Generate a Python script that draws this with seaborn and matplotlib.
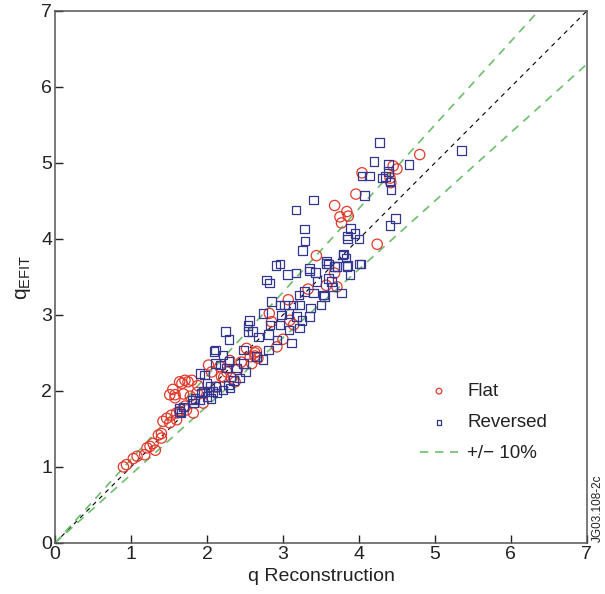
import numpy as np
import pandas as pd
import matplotlib
matplotlib.use("Agg")
import matplotlib.pyplot as plt
import seaborn as sns

# q reconstruction vs q from EFIT
flat_x = [0.90, 0.94, 1.03, 1.08, 1.18, 1.21, 1.25, 1.29, 1.32, 1.36, 1.40, 1.40,
          1.42, 1.47, 1.51, 1.53, 1.60, 1.60, 1.64, 1.71, 1.51, 1.58, 1.67, 1.75,
          1.64, 1.71, 1.80, 1.88, 1.55, 1.58, 1.69, 1.78, 1.87, 1.73, 1.82, 2.02,
          2.06, 2.17, 2.19, 2.26, 2.32, 2.37, 2.57, 2.63, 2.67, 2.59, 2.52, 2.65,
          2.63, 2.82, 2.85, 3.09, 3.14, 3.00, 2.92, 3.07, 3.33, 3.71, 3.57, 3.68,
          3.44, 4.24, 3.75, 3.77, 3.84, 3.86, 3.68, 3.96, 4.04, 4.41, 4.42, 4.45,
          4.50, 4.80, 2.12, 2.22, 2.40, 1.95, 2.45, 2.30]
flat_y = [1.00, 1.03, 1.11, 1.14, 1.16, 1.25, 1.27, 1.31, 1.22, 1.42, 1.44, 1.38,
          1.60, 1.64, 1.58, 1.68, 1.62, 1.71, 1.73, 1.80, 1.95, 1.95, 2.10, 2.12,
          2.12, 2.14, 2.14, 2.07, 2.02, 1.91, 1.96, 1.93, 1.98, 1.75, 1.71, 2.34,
          2.25, 2.32, 2.19, 2.25, 2.17, 2.12, 2.45, 2.50, 2.43, 2.36, 2.56, 2.52,
          2.46, 3.02, 2.91, 2.93, 2.87, 2.68, 2.58, 3.20, 3.34, 3.37, 3.39, 3.55,
          3.78, 3.93, 4.29, 4.21, 4.36, 4.30, 4.44, 4.59, 4.87, 4.80, 4.74, 4.96,
          4.92, 5.11, 2.05, 2.18, 2.28, 1.84, 2.38, 2.40]

rev_x = [1.64, 1.66, 1.80, 1.93, 2.02, 2.11, 1.82, 1.69, 1.64, 1.91, 1.97, 2.00,
         2.04, 2.08, 1.95, 1.84, 1.91, 2.00, 2.05, 2.13, 2.21, 2.30, 2.09, 2.21,
         2.29, 2.11, 2.18, 2.26, 2.39, 2.48, 2.51, 2.43, 2.35, 2.28, 2.74, 2.65,
         2.11, 2.48, 2.81, 2.24, 2.29, 2.54, 2.60, 2.68, 2.81, 2.92, 3.11, 2.83,
         2.96, 3.08, 3.22, 2.56, 2.54, 2.74, 2.98, 3.08, 3.18, 3.25, 3.35, 2.85,
         2.96, 3.02, 3.13, 3.22, 3.36, 3.50, 3.21, 3.28, 3.40, 3.55, 2.78, 2.82,
         3.06, 3.17, 3.35, 3.43, 3.45, 3.57, 3.60, 3.65, 3.71, 2.91, 2.96, 3.35,
         3.57, 3.60, 3.68, 3.85, 3.79, 3.84, 3.68, 3.88, 4.01, 3.77, 3.64, 3.53,
         3.80, 3.83, 4.03, 3.26, 3.29, 3.28, 3.89, 3.85, 3.85, 3.95, 4.00, 4.48,
         4.41, 3.17, 3.40, 4.07, 4.41, 4.42, 4.31, 4.35, 4.39, 4.04, 4.14, 4.39,
         4.66, 4.20, 5.35, 4.27]
rev_y = [1.77, 1.71, 1.88, 1.97, 1.99, 2.06, 1.84, 1.79, 1.73, 2.23, 2.21, 2.10,
         2.06, 1.99, 1.99, 1.90, 1.88, 1.93, 1.90, 1.97, 2.01, 2.04, 2.52, 2.47,
         2.39, 2.36, 2.34, 2.30, 2.30, 2.36, 2.25, 2.17, 2.14, 2.08, 2.41, 2.45,
         2.54, 2.54, 2.54, 2.78, 2.68, 2.78, 2.78, 2.71, 2.74, 2.67, 2.63, 2.87,
         2.87, 2.80, 2.83, 2.93, 2.86, 3.02, 3.00, 3.02, 2.98, 2.93, 2.98, 3.18,
         3.13, 3.13, 3.13, 3.13, 3.09, 3.13, 3.26, 3.31, 3.29, 3.24, 3.46, 3.42,
         3.53, 3.55, 3.58, 3.56, 3.44, 3.68, 3.48, 3.37, 3.64, 3.65, 3.67, 3.61,
         3.71, 3.67, 3.64, 3.65, 3.79, 3.64, 3.64, 3.53, 3.67, 3.29, 3.44, 3.26,
         3.80, 3.75, 3.67, 3.85, 3.97, 4.13, 4.14, 4.04, 4.00, 4.07, 4.00, 4.27,
         4.18, 4.38, 4.51, 4.57, 4.75, 4.65, 4.80, 4.82, 4.89, 4.83, 4.83, 4.98,
         4.98, 5.02, 5.16, 5.27]

ticks = [0, 1, 2, 3, 4, 5, 6, 7]
band = 0.10

red = "#e2392b"
blue = "#34378f"
green = "#6cbf6c"
txt = "#222222"

sns.set_style("ticks")
plt.rcParams["font.family"] = ["Liberation Sans", "DejaVu Sans"]
plt.rcParams["mathtext.default"] = "regular"

flat = pd.DataFrame({"x": flat_x, "y": flat_y})
rev = pd.DataFrame({"x": rev_x, "y": rev_y})

fig = plt.figure(figsize=(6.05, 5.94), dpi=100)
ax = fig.add_axes([0.091, 0.086, 0.879, 0.8956])

# reference lines
ax.axline((0, 0), slope=1.0, color="black", lw=0.8, ls=(0, (4, 4)), zorder=1)
ax.axline((0, 0), slope=1 + band, color=green, lw=1.2, ls=(0, (5, 4)), zorder=1)
ax.axline((0, 0), slope=1 - band, color=green, lw=1.2, ls=(0, (5, 4)), zorder=1,
          label="+/\u2212 10%")

sns.scatterplot(data=flat, x="x", y="y", ax=ax, marker="o", s=55,
                color=red, facecolor="none", edgecolor=red, linewidth=0.9,
                label="Flat", zorder=2)
sns.scatterplot(data=rev, x="x", y="y", ax=ax, marker="s", s=38,
                color=blue, facecolor="none", edgecolor=blue, linewidth=0.9,
                label="Reversed", zorder=3)

ax.set_xlim(0, 7)
ax.set_ylim(0, 7)
ax.set_xticks(ticks)
ax.set_yticks(ticks)
ax.tick_params(direction="in", length=6, width=1, labelsize=14,
               colors=txt, pad=2, top=False, right=False)
for sp in ax.spines.values():
    sp.set_color("#555555")
    sp.set_linewidth(1.1)
    sp.set_visible(True)

ax.set_xlabel("q Reconstruction", fontsize=14, color=txt, labelpad=4)
ax.set_ylabel(r"q$_{EFIT}$", fontsize=15, color=txt, labelpad=6)

h, l = ax.get_legend_handles_labels()
order = [l.index("Flat"), l.index("Reversed"), l.index("+/\u2212 10%")]
ax.legend([h[i] for i in order], [l[i] for i in order], loc="center left",
          bbox_to_anchor=(0.655, 0.226), frameon=False, fontsize=13.5,
          markerscale=0.55, handlelength=2.0, handletextpad=0.5,
          labelspacing=0.75, labelcolor=txt)

fig.text(0.979, 0.088, "JG03.108-2c", rotation=90, fontsize=8.5,
         color=txt, ha="left", va="bottom")

fig.savefig("out.png", dpi=100)
